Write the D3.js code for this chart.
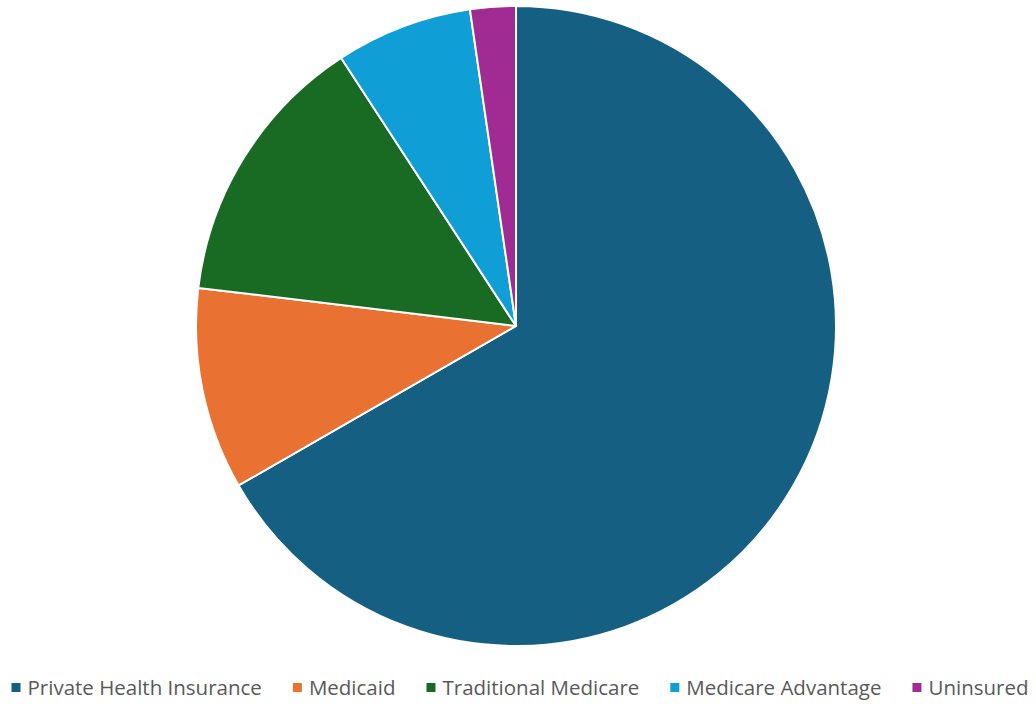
<!DOCTYPE html>
<html>
<head>
<meta charset="utf-8">
<script src="https://cdn.jsdelivr.net/npm/d3@7"></script>
<style>
  html, body { margin: 0; padding: 0; background: #fff; }
  svg { display: block; }
</style>
</head>
<body>
<svg id="chart" width="1036" height="704"></svg>
<script>
// Coverage shares, percent of total
const categories = ["Private Health Insurance", "Medicaid", "Traditional Medicare", "Medicare Advantage", "Uninsured"];
const shares = [66.7, 10.2, 13.9, 6.9, 2.3];
const colors = ["#156082", "#E97132", "#196B24", "#0F9ED5", "#A02B93"];

const width = 1036, height = 704;
const cx = 516, cy = 326, radius = 320;

const svg = d3.select("#chart");
const data = categories.map((c, i) => ({ name: c, value: shares[i] }));

const pie = d3.pie().value(d => d.value).sort(null);
const arc = d3.arc().innerRadius(0).outerRadius(radius);
const color = d3.scaleOrdinal().domain(categories).range(colors);

svg.append("g")
  .attr("transform", `translate(${cx},${cy})`)
  .selectAll("path")
  .data(pie(data))
  .join("path")
  .attr("d", arc)
  .attr("fill", d => color(d.data.name))
  .attr("stroke", "#fff")
  .attr("stroke-width", 2)
  .attr("stroke-linejoin", "round");

// Legend row along the bottom, centered horizontally
const legend = svg.append("g").attr("class", "legend");
const fontSize = 20.5, box = 9, boxGap = 7, itemGap = 31, baseline = 695;

const items = legend.selectAll("g")
  .data(categories)
  .join("g");

items.append("rect")
  .attr("width", box).attr("height", box)
  .attr("y", baseline - 12)
  .attr("fill", d => color(d));

items.append("text")
  .attr("x", box + boxGap)
  .attr("y", baseline)
  .attr("font-family", "'Open Sans', sans-serif")
  .attr("font-size", fontSize)
  .attr("fill", "#595959")
  .text(d => d);

let x = 0;
const widths = [];
items.each(function() {
  const w = box + boxGap + d3.select(this).select("text").node().getComputedTextLength();
  widths.push(w);
});
const total = d3.sum(widths) + itemGap * (widths.length - 1);
x = (width - total) / 2 + 2;
items.attr("transform", (d, i) => {
  const t = `translate(${x},0)`;
  x += widths[i] + itemGap;
  return t;
});
</script>
</body>
</html>
